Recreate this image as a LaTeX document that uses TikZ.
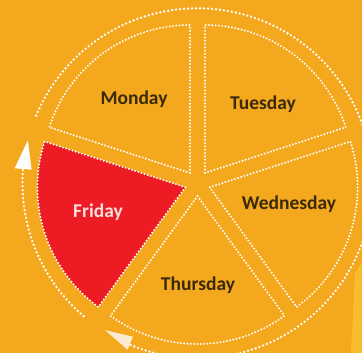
\documentclass[tikz,border=0pt]{standalone}
\usepackage{fontspec}
\setmainfont{Carlito}
\usetikzlibrary{positioning}

\definecolor{bgorange}{HTML}{F4A81E}
\definecolor{glowyellow}{HTML}{F8BC2C}
\definecolor{dayred}{HTML}{ED1C24}
\definecolor{daytext}{HTML}{3A2A0B}
\definecolor{fritext}{HTML}{F8DEDE}
\definecolor{arrowcream}{HTML}{FCEBD0}

\begin{document}
\begin{tikzpicture}[x=1pt, y=1pt,
    wedge/.style={white, line width=2.2pt, line cap=round, dash pattern=on 0pt off 3.3pt},
    ring/.style={white, line width=2.6pt, line cap=round, dash pattern=on 0pt off 4pt},
    daylabel/.style={anchor=base, font=\fontsize{19.5}{21}\selectfont\bfseries, text=daytext, inner sep=0pt}]
        \fill[bgorange] (-197.5,-169.7) rectangle (164.5,183.3);
        \useasboundingbox (-197.5,-169.7) rectangle (164.5,183.3);
        \fill[glowyellow] (157.5,-89.7) -- (164.5,-78.7) -- (164.5,-169.7) -- (153.5,-169.7) -- cycle;
        % Friday slice filled
        \fill[dayred] (198:12.75) -- ++(162:148) arc[start angle=162, end angle=234, radius=148] -- cycle;
        % five slices
        \foreach \a in {90,18,-54,-126,162}
          \draw[wedge] (\a+36:12.75) -- ++(\a:148) arc[start angle=\a, end angle=\a+72, radius=148] -- cycle;
        % outer ring
        \draw[ring] (-112.5:175) arc[start angle=-112.5, end angle=157.5, radius=175];
        \draw[ring] (175.7:175) arc[start angle=175.7, end angle=229.7, radius=175];
        \fill[white] (165.8:175) -- (175.3:183.5) -- (175.3:166.5) -- cycle;
        \fill[arrowcream] (237.8:173.5) -- (247.2:166.5) -- (247.2:180.5) -- cycle;
        % labels
        \node[daylabel] (monday) at (-63.5,78.5) {Monday};
        \node[daylabel] (tuesday) at (65.5,73.8) {Tuesday};
        \node[daylabel] (wednesday) at (91.5,-26) {Wednesday};
        \node[daylabel] (thursday) at (0.5,-107.2) {Thursday};
        \node[daylabel, text=fritext] (friday) at (-99.5,-34.7) {Friday};
     \end{tikzpicture}
\end{document}
